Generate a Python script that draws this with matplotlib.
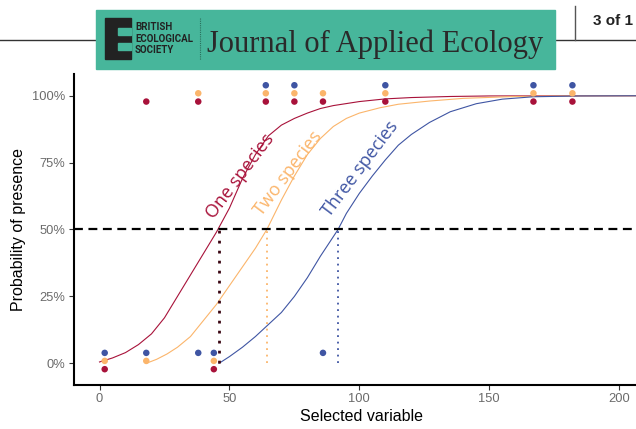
import matplotlib.pyplot as plt
from matplotlib.patches import Rectangle

# Observed presence / absence (x = selected variable)
one_x = [2, 44, 18, 38, 64, 75, 86, 110, 167, 182]
one_y = [0, 0, 1, 1, 1, 1, 1, 1, 1, 1]
two_x = [2, 18, 44, 38, 64, 75, 86, 110, 167, 182]
two_y = [0, 0, 0, 1, 1, 1, 1, 1, 1, 1]
three_x = [2, 18, 38, 44, 86, 64, 75, 110, 167, 182]
three_y = [0, 0, 0, 0, 0, 1, 1, 1, 1, 1]

# Fitted curves
one_cx = [0, 5, 10, 15, 20, 25, 30, 35, 40, 45, 50, 55, 60, 65, 70, 75, 80, 85,
          90, 100, 110, 120, 135, 150, 215]
one_cy = [0.005, 0.02, 0.04, 0.07, 0.11, 0.17, 0.25, 0.33, 0.41, 0.49, 0.58, 0.69,
          0.78, 0.85, 0.89, 0.915, 0.935, 0.952, 0.963, 0.978, 0.988, 0.993, 0.997,
          0.999, 1.0]
two_cx = [18, 22, 26, 30, 35, 40, 45, 50, 55, 60, 64.4, 70, 75, 80, 85, 90, 95,
          100, 108, 115, 127, 140, 160, 180, 215]
two_cy = [0.0, 0.015, 0.035, 0.06, 0.10, 0.16, 0.22, 0.29, 0.36, 0.43, 0.50, 0.61,
          0.70, 0.78, 0.84, 0.885, 0.915, 0.935, 0.955, 0.968, 0.98, 0.99, 0.997,
          0.999, 1.0]
three_cx = [46, 50, 55, 60, 65, 70, 75, 80, 85, 91.8, 95, 100, 105, 110, 115, 120,
            127, 135, 145, 155, 167, 185, 215]
three_cy = [0.0, 0.025, 0.06, 0.10, 0.145, 0.19, 0.25, 0.32, 0.40, 0.50, 0.56, 0.635,
            0.70, 0.76, 0.815, 0.855, 0.90, 0.94, 0.97, 0.987, 0.996, 0.999, 1.0]

# Where each curve crosses 50 %
mid_x = [46, 64.4, 91.8]

names = ['One species', 'Two species', 'Three species']
colors = ['#a8123a', '#fbb56b', '#3f55a3']
label_x = [54, 72.5, 100.5]
label_y = [0.70, 0.71, 0.725]

fig = plt.figure(figsize=(6.36, 4.29), dpi=100)
ax = fig.add_axes([0.1156, 0.1026, 0.907, 0.7249])

curves = [(one_cx, one_cy), (two_cx, two_cy), (three_cx, three_cy)]
points = [(one_x, one_y), (two_x, two_y), (three_x, three_y)]
nudge = [-0.022, 0.009, 0.039]

for (cx, cy), c in zip(curves, colors):
    ax.plot(cx, cy, color=c, lw=0.8, zorder=2)

ax.axhline(0.5, color='black', lw=1.6, dashes=(4, 2.5), zorder=3)

dot_cols = ['#3a0612', colors[1], colors[2]]
dot_lw = [2.0, 1.3, 1.3]
for m, c, w in zip(mid_x, dot_cols, dot_lw):
    ax.plot([m, m], [0, 0.5], color=c, lw=w, linestyle=(0, (1, 2.6)), zorder=3)

for (px, py), c, n in zip(points, colors, nudge):
    ax.scatter(px, [v + n for v in py], s=22, color=c, edgecolors='none', zorder=4)

for name, c, lx, ly in zip(names, colors, label_x, label_y):
    ax.text(lx, ly, name, color=c, rotation=53, ha='center', va='center',
            fontsize=13, family='Open Sans', zorder=5)

ax.set_xlim(-10, 212)
ax.set_ylim(-0.081, 1.081)
ax.set_xticks([0, 50, 100, 150, 200])
ax.set_yticks([0, 0.25, 0.5, 0.75, 1.0])
ax.set_yticklabels(['0%', '25%', '50%', '75%', '100%'])
for s in ['top', 'right']:
    ax.spines[s].set_visible(False)
for s in ['left', 'bottom']:
    ax.spines[s].set_linewidth(1.5)
ax.tick_params(length=3.5, width=0.8, color='#333333', labelcolor='#6b6b6b',
               labelsize=9.3, pad=2.5)
for lab in ax.get_xticklabels() + ax.get_yticklabels():
    lab.set_family('Liberation Sans')
ax.set_xlabel('Selected variable', fontsize=11.5, family='Liberation Sans', labelpad=3)
ax.set_ylabel('Probability of presence', fontsize=11.5, family='Liberation Sans', labelpad=4)

# page header strip (pixel coordinates)
hd = fig.add_axes([0, 0, 1, 1], zorder=10)
hd.set_xlim(0, 636)
hd.set_ylim(429, 0)
hd.axis('off')
green = '#47b69b'
hd.plot([0, 636], [39.5, 39.5], color='#333333', lw=1)
hd.plot([574.5, 574.5], [6, 39.5], color='#555555', lw=1)
hd.add_patch(Rectangle((96, 10), 459, 59, color=green, zorder=2))
hd.add_patch(Rectangle((105, 18), 26, 41, color='#222222', zorder=3))
hd.add_patch(Rectangle((118, 28), 13, 7, color=green, zorder=4))
hd.add_patch(Rectangle((118, 43), 13, 7, color=green, zorder=4))
hd.plot([200, 200], [18, 60], color='#2a6f5c', lw=0.8, linestyle=(0, (1, 1)), zorder=3)
hd.text(135, 38.5, 'BRITISH\nECOLOGICAL\nSOCIETY', fontsize=7, family='Roboto',
        weight='bold', color='#222222', va='center', ha='left', linespacing=1.15,
        zorder=5)
hd.text(207, 52, 'Journal of Applied Ecology', fontsize=22, family='Liberation Serif',
        color='#2a2a2a', va='baseline', ha='left', zorder=5)
hd.text(593, 21, '3 of 1', fontsize=11, family='Liberation Sans', weight='bold',
        color='#222222', va='center', ha='left', zorder=5)

fig.savefig('out.png', dpi=100)
